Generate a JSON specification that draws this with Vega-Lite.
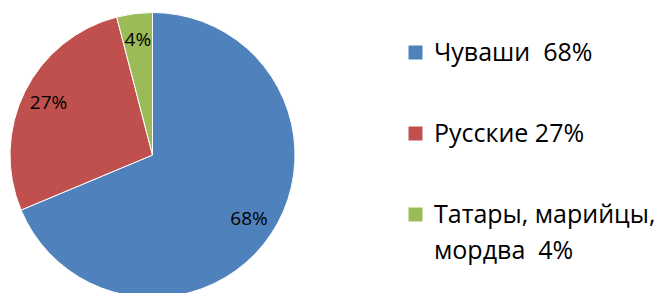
{
  "$schema": "https://vega.github.io/schema/vega-lite/v6.json",
  "width": 285,
  "height": 286,
  "autosize": {"type": "none"},
  "padding": {"left": 10, "top": 12, "right": 366, "bottom": -5},
  "background": "white",
  "data": {
    "values": [
      {"name": "Чуваши\u00a0 68%", "value": 68, "pct": "68%"},
      {"name": "Русские 27%", "value": 27, "pct": "27%"},
      {"name": "Татары, марийцы,|мордва\u00a0 4%", "value": 4, "pct": "4%"}
    ]
  },
  "encoding": {
    "theta": {"field": "value", "type": "quantitative", "stack": true},
    "order": {"field": "value", "type": "quantitative", "sort": "descending"}
  },
  "layer": [
    {
      "mark": {"type": "arc", "outerRadius": 142.5, "stroke": "white", "strokeWidth": 1},
      "encoding": {
        "color": {
          "field": "name",
          "type": "nominal",
          "sort": null,
          "scale": {"range": ["#4F81BD", "#C0504D", "#9BBB59"]},
          "legend": {
            "orient": "none",
            "legendX": 393,
            "legendY": 28,
            "title": null,
            "padding": 0,
            "symbolType": "square",
            "symbolSize": 196,
            "symbolStrokeWidth": 0,
            "symbolOpacity": 1,
            "labelFont": "Open Sans",
            "labelFontSize": 25,
            "labelColor": "#000000",
            "labelOffset": 6,
            "labelLimit": 400,
            "rowPadding": 55,
            "labelExpr": "split(datum.label, '|')",
            "encode": {"labels": {"update": {"lineHeight": {"value": 36}}}}
          }
        }
      }
    },
    {
      "mark": {"type": "text", "radius": 116, "fontSize": 19, "font": "Open Sans", "color": "#000000"},
      "encoding": {"text": {"field": "pct", "type": "nominal"}}
    }
  ],
  "config": {
    "view": {"stroke": null},
    "style": {"guide-label": {"lineHeight": 36}}
  }
}
